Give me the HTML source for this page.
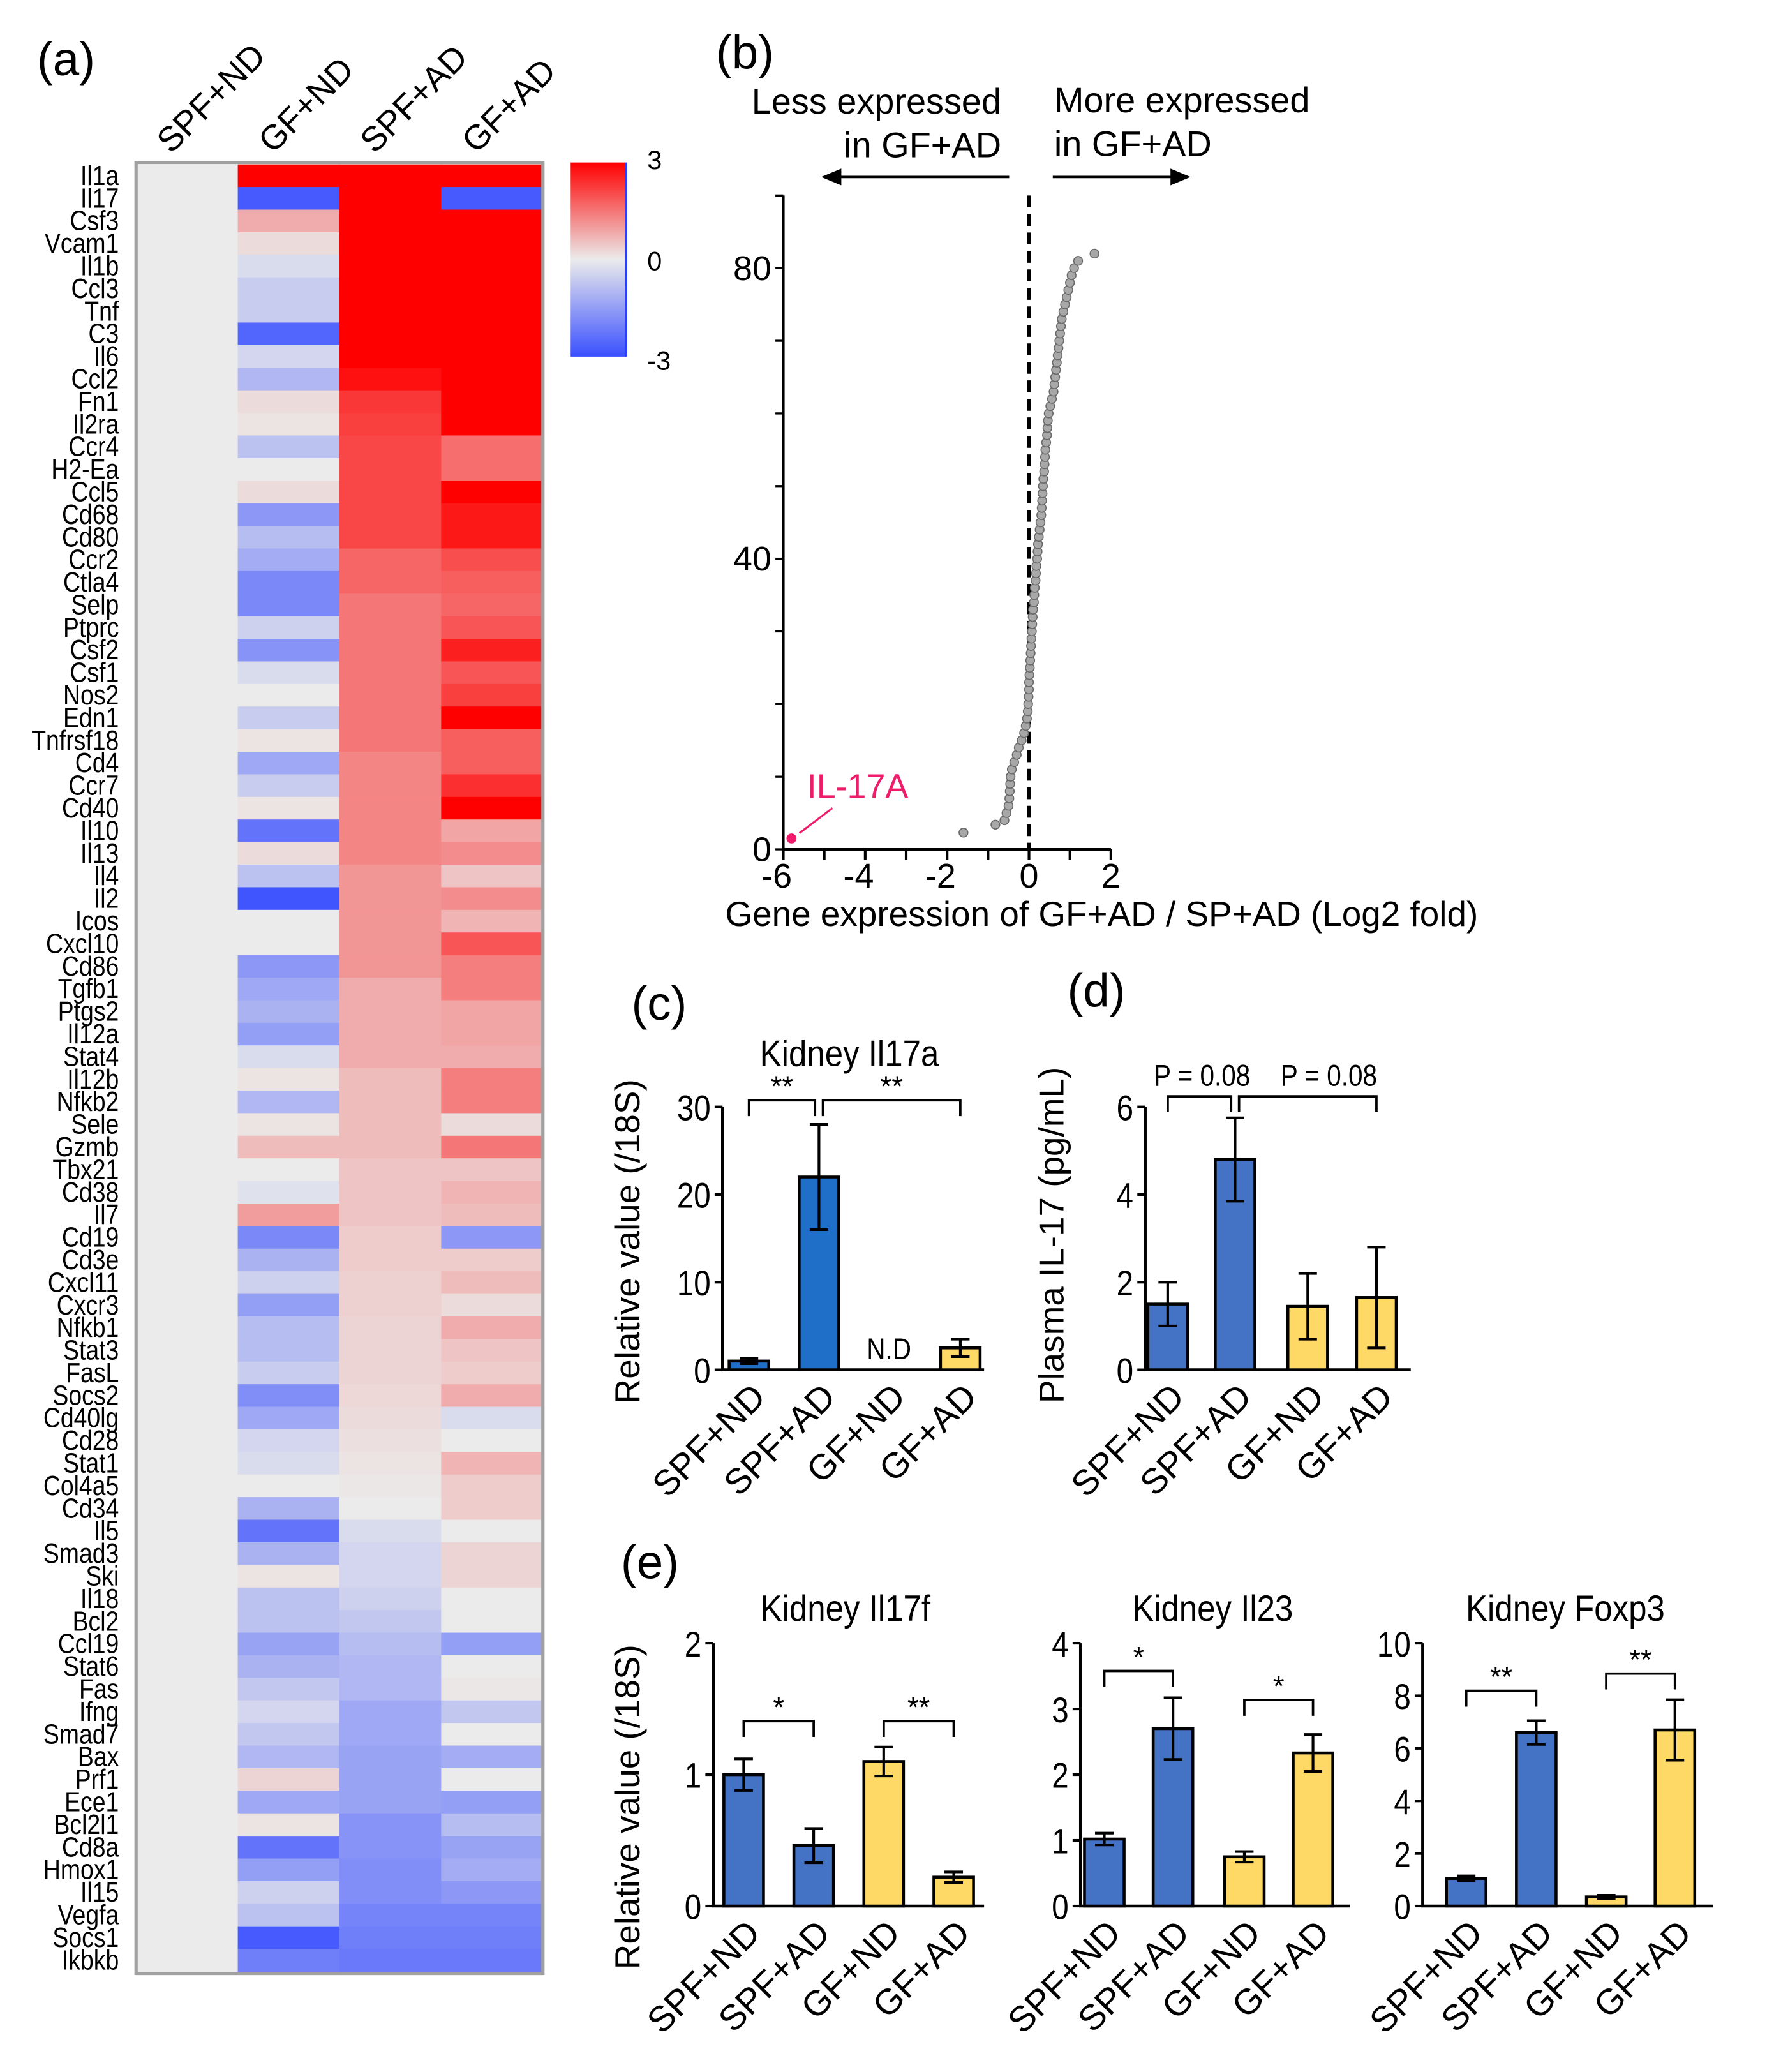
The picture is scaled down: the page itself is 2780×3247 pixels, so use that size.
<!DOCTYPE html>
<html><head><meta charset="utf-8">
<style>
html,body{margin:0;padding:0;background:#fff;}
svg{display:block;}
text{font-family:"Liberation Sans",Arial,sans-serif;}
</style></head>
<body>
<svg id="fig" xmlns="http://www.w3.org/2000/svg" width="2780" height="3247" viewBox="0 0 1343 1568.6" preserveAspectRatio="none">
<rect x="0" y="0" width="1343" height="1569" fill="#fff"/>
<text x="28" y="57" font-size="36">(a)</text>
<text x="542" y="52" font-size="36">(b)</text>
<text x="478" y="772" font-size="36">(c)</text>
<text x="808" y="762" font-size="36">(d)</text>
<text x="470" y="1195" font-size="36">(e)</text>
<g id="heat"></g>
<g id="scat"></g>
<g id="bars"></g>
</svg>
<script>
// ---------- Heatmap data ----------
const genes=["Il1a","Il17","Csf3","Vcam1","Il1b","Ccl3","Tnf","C3","Il6","Ccl2","Fn1","Il2ra","Ccr4","H2-Ea","Ccl5","Cd68","Cd80","Ccr2","Ctla4","Selp","Ptprc","Csf2","Csf1","Nos2","Edn1","Tnfrsf18","Cd4","Ccr7","Cd40","Il10","Il13","Il4","Il2","Icos","Cxcl10","Cd86","Tgfb1","Ptgs2","Il12a","Stat4","Il12b","Nfkb2","Sele","Gzmb","Tbx21","Cd38","Il7","Cd19","Cd3e","Cxcl11","Cxcr3","Nfkb1","Stat3","FasL","Socs2","Cd40lg","Cd28","Stat1","Col4a5","Cd34","Il5","Smad3","Ski","Il18","Bcl2","Ccl19","Stat6","Fas","Ifng","Smad7","Bax","Prf1","Ece1","Bcl2l1","Cd8a","Hmox1","Il15","Vegfa","Socs1","Ikbkb"];
const groups=["SPF+ND","GF+ND","SPF+AD","GF+AD"];
const valsGFND=[3,-2.8,0.8,0.2,-0.3,-0.6,-0.6,-2.6,-0.4,-1.0,0.2,0.1,-0.8,0,0.2,-1.6,-0.9,-1.2,-1.9,-1.9,-0.5,-1.7,-0.3,0,-0.6,0.1,-1.3,-0.6,0.1,-2.3,0.2,-0.8,-2.9,0,0,-1.6,-1.3,-1.1,-1.5,-0.3,0.1,-1.0,0.1,0.6,0,-0.2,1.0,-1.9,-1.1,-0.5,-1.5,-0.9,-0.9,-0.6,-1.8,-1.3,-0.4,-0.3,0,-1.1,-2.3,-1.1,0.1,-0.8,-0.8,-1.4,-1.1,-0.7,-0.4,-0.7,-1.0,0.3,-1.3,0.1,-2.3,-1.5,-0.5,-0.8,-2.8,-2.1];
const valsSPFAD=[3,3,3,3,3,3,3,3,3,2.8,2.3,2.2,2.1,2.1,2.1,2.1,2.1,1.7,1.7,1.5,1.5,1.5,1.5,1.5,1.5,1.5,1.3,1.3,1.3,1.3,1.3,1.1,1.1,1.1,1.1,1.1,0.8,0.8,0.8,0.8,0.6,0.6,0.6,0.6,0.5,0.5,0.5,0.4,0.4,0.35,0.35,0.3,0.3,0.3,0.25,0.2,0.15,0.1,0.05,0,-0.3,-0.4,-0.4,-0.5,-0.7,-0.9,-1.0,-1.0,-1.3,-1.3,-1.4,-1.4,-1.4,-1.7,-1.7,-1.8,-1.8,-2.0,-2.1,-2.2];
const valsGFAD=[3,-2.8,3,3,3,3,3,3,3,3,3,3,1.6,1.6,3,2.7,2.7,2.0,1.8,1.7,1.9,2.6,1.9,2.2,3,1.8,1.8,2.4,3,0.9,1.2,0.5,1.2,0.7,1.9,1.4,1.4,0.9,0.9,0.8,1.4,1.4,0.2,1.5,0.5,0.7,0.6,-1.6,0.4,0.6,0.2,0.8,0.5,0.4,0.8,-0.3,0,0.7,0.4,0.4,0,0.3,0.3,0,0,-1.5,0,0.05,-0.7,0,-1.2,0,-1.5,-0.9,-1.4,-1.2,-1.6,-2.0,-2.1,-2.2];
const valsSPFND=genes.map(()=>0);
const colorbarTicks=[3,0,-3];

// ---------- Fold-change plot data ----------
const il17X=-5.8, il17Y=1.5;
const grayX=[-1.6,-0.82,-0.6,-0.55,-0.5,-0.48,-0.47,-0.46,-0.45,-0.42,-0.36,-0.3,-0.25,-0.18,-0.12,-0.08,-0.05,-0.03,-0.02,-0.01,0,0,0.01,0.02,0.03,0.04,0.05,0.06,0.07,0.08,0.09,0.1,0.12,0.13,0.14,0.16,0.17,0.18,0.2,0.21,0.22,0.24,0.26,0.28,0.3,0.31,0.32,0.33,0.34,0.35,0.37,0.38,0.39,0.4,0.42,0.44,0.45,0.46,0.48,0.52,0.56,0.6,0.62,0.64,0.66,0.68,0.7,0.72,0.74,0.76,0.78,0.8,0.84,0.88,0.92,0.96,1.0,1.04,1.1,1.2,1.6];
const grayY=[2.3,3.4,4,5,6,7,8,9,10,11,12,13,14,15,16,17,18,19,20,21,22,23,24,25,26,27,28,29,30,31,32,33,34,35,36,37,38,39,40,41,42,43,44,45,46,47,48,49,50,51,52,53,54,55,56,57,58,59,60,61,62,63,64,65,66,67,68,69,70,71,72,73,74,75,76,77,78,79,80,81,82];
const scatXTicks=[-6,-4,-2,0,2];
const scatYTicks=[0,40,80];

// ---------- Bar chart data ----------
const barCats=["SPF+ND","SPF+AD","GF+ND","GF+AD"];
const il17aVals=[1.0,22,null,2.5];
const il17aErr=[0.3,6,0,1.0];
const il17aTicks=[0,10,20,30];
const plasmaVals=[1.5,4.8,1.45,1.65];
const plasmaErr=[0.5,0.95,0.75,1.15];
const plasmaTicks=[0,2,4,6];
const il17fVals=[1.0,0.46,1.1,0.22];
const il17fErr=[0.12,0.13,0.11,0.04];
const il17fTicks=[0,1,2];
const il23Vals=[1.02,2.7,0.75,2.33];
const il23Err=[0.09,0.47,0.08,0.28];
const il23Ticks=[0,1,2,3,4];
const foxp3Vals=[1.05,6.6,0.35,6.7];
const foxp3Err=[0.1,0.45,0.06,1.15];
const foxp3Ticks=[0,2,4,6,8,10];

const NS="http://www.w3.org/2000/svg";
function mk(tag,attrs,parent,txt){const e=document.createElementNS(NS,tag);for(const k in attrs)e.setAttribute(k,attrs[k]);if(txt!==undefined)e.textContent=txt;parent.appendChild(e);return e;}
function col(v){
  const g=[235,235,235],r=[255,0,0],b=[58,80,255];
  const t=Math.max(-1,Math.min(1,v/3));
  const c=t>=0?r:b,a=Math.abs(t);
  return "rgb("+g.map((x,i)=>Math.round(x+(c[i]-x)*a)).join(",")+")";
}

// ---------- Heatmap ----------
(function(){
  const G=document.getElementById('heat');
  const x0=103,top=124.5,bot=1492.5,cw=77,rh=(bot-top)/genes.length;
  const cols=[valsSPFND,valsGFND,valsSPFAD,valsGFAD];
  cols.forEach((arr,ci)=>{
    arr.forEach((v,ri)=>{
      const r=mk('rect',{x:x0+ci*cw,y:top+ri*rh,width:cw+0.5,height:rh+0.5,fill:col(v)},G);
      
      
    });
  });
  const box=mk('rect',{x:x0,y:top-1.5,width:cw*4,height:bot-top+3,fill:'none',stroke:'#a0a0a0','stroke-width':2.5},G);
  
  
  genes.forEach((g,ri)=>{
    const t=mk('text',{transform:'translate(90,'+(top+ri*rh+rh/2+7)+') scale(0.86,1)','text-anchor':'end','font-size':21},G,g);
    
    
  });
  groups.forEach((g,ci)=>{
    const cx=x0+ci*cw+cw/2-12;
    const t=mk('text',{transform:'translate('+cx+',117) rotate(-45)','font-size':26},G,g);
    
    
  });
  const defs=mk('defs',{},G);
  const lg=mk('linearGradient',{id:'cbg',x1:0,y1:0,x2:0,y2:1},defs);
  [[0,3],[0.5,0],[1,-3]].forEach(s=>mk('stop',{offset:s[0],'stop-color':col(s[1])},lg));
  const cb=mk('rect',{x:432,y:123,width:42,height:147,fill:'url(#cbg)'},G);
  
  
  const cbl=mk('line',{x1:474,y1:123,x2:474,y2:270,stroke:'#2a40ff','stroke-width':1.5},G);
  
  
  colorbarTicks.forEach(v=>{
    const y=123+(3-v)/6*147;
    const t=mk('text',{x:490,y:y+(v===3?5:v===0?8:10),'font-size':20},G,String(v));
    
    
  });
})();

// ---------- Fold-change scatter ----------
(function(){
  const G=document.getElementById('scat');
  const X=v=>593+(v+6)*31, Y=v=>643-v*5.5;
  const ax=mk('path',{d:'M593,148 L593,643 L841,643',fill:'none',stroke:'#000','stroke-width':2},G);
  
  
  for(let v=0;v<=90;v+=10){if(Y(v)<148)break;const l=mk('line',{x1:587,x2:593,y1:Y(v),y2:Y(v),stroke:'#000','stroke-width':1.6},G);}
  for(let v=-6;v<=2;v+=1){const l=mk('line',{x1:X(v),x2:X(v),y1:643,y2:651,stroke:'#000','stroke-width':2},G);}
  scatYTicks.forEach(v=>{const t=mk('text',{x:584,y:Y(v)+9,'text-anchor':'end','font-size':26},G,String(v));});
  scatXTicks.forEach(v=>{const t=mk('text',{x:X(v)-(v<0?5:0),y:672,'text-anchor':'middle','font-size':26},G,String(v));});
  const dl=mk('line',{x1:X(0),x2:X(0),y1:148,y2:643,stroke:'#000','stroke-width':3,'stroke-dasharray':'9,5'},G);
  
  
  grayX.forEach((v,i)=>{const c=mk('circle',{cx:X(v),cy:Y(grayY[i]),r:3.3,fill:'#a8a8a8',stroke:'#6a6a6a','stroke-width':0.8},G);});
  const p=mk('circle',{cx:X(il17X),cy:Y(il17Y),r:3.8,fill:'#ee1c6a'},G);
  
  
  const pl=mk('line',{x1:X(il17X)+6,y1:Y(il17Y)-4,x2:X(il17X)+31,y2:Y(il17Y)-23,stroke:'#ee1c6a','stroke-width':1.5},G);
  
  
  const pt=mk('text',{x:611,y:604,'font-size':26,fill:'#ee1c6a'},G,'IL-17A');
  
  
  const xl=mk('text',{x:834,y:701,'text-anchor':'middle','font-size':26.5},G,'Gene expression of GF+AD / SP+AD (Log2 fold)');
  
  
  [['Less expressed',758,86,'end'],['in GF+AD',758,119,'end'],['More expressed',798,85,'start'],['in GF+AD',798,118,'start']].forEach((a,i)=>{
    const t=mk('text',{x:a[1],y:a[2],'text-anchor':a[3],'font-size':27},G,a[0]);
    
    
  });
  const arL=mk('path',{d:'M764,134 L624,134 M624,134 l12,-5 l0,10 z',stroke:'#000','stroke-width':1.8,fill:'#000'},G);
  
  
  const arR=mk('path',{d:'M797,134 L897,134 M899,134 l-12,-5 l0,10 z',stroke:'#000','stroke-width':1.8,fill:'#000'},G);
  
  
})();

// ---------- Bar charts ----------
const BLUE='#4472c4', BLUE2='#1f6ec8', YEL='#ffd966';
function barChart(o){
  const G=mk('g',{},document.getElementById('bars'));
  
  
  const Y=v=>o.y0-(v/o.max)*(o.y0-o.yTop);
  const ax=mk('path',{d:'M'+o.ax+','+o.yTop+' L'+o.ax+','+o.y0+' L'+o.axEnd+','+o.y0,fill:'none',stroke:'#000','stroke-width':2.2},G);
  
  
  o.ticks.forEach(v=>{
    const l=mk('line',{x1:o.ax-6,x2:o.ax,y1:Y(v),y2:Y(v),stroke:'#000','stroke-width':2},G);
    
    
    const t=mk('text',{transform:'translate('+(o.ax-9)+','+(Y(v)+10)+') scale(0.85,1)','text-anchor':'end','font-size':27},G,String(v));
    
    
  });
  o.vals.forEach((v,i)=>{
    const cx=o.xs[i];
    if(v===null){
      const t=mk('text',{transform:'translate('+cx+','+(o.y0-8)+') scale(0.85,1)','text-anchor':'middle','font-size':23},G,'N.D');
      
      
    } else {
      const r=mk('rect',{x:cx-15,y:Y(v),width:30,height:o.y0-Y(v),fill:o.colors[i],stroke:'#000','stroke-width':2.2},G);
      
      
      const e=o.err[i],yt=Y(v+e),yb=Y(Math.max(0,v-e));
      const eb=mk('path',{d:'M'+cx+','+yt+' L'+cx+','+yb+' M'+(cx-7)+','+yt+' L'+(cx+7)+','+yt+' M'+(cx-7)+','+yb+' L'+(cx+7)+','+yb,stroke:'#000','stroke-width':2,fill:'none'},G);
      
      
    }
    const lt=mk('text',{transform:'translate('+(cx+14)+','+(o.y0+22)+') rotate(-45)','text-anchor':'end','font-size':27},G,barCats[i]);
    
    
  });
  const tt=mk('text',{transform:'translate('+o.titleX+','+o.titleY+') scale(0.88,1)','text-anchor':'middle','font-size':28},G,o.title);
  
  
  (o.brackets||[]).forEach((b,bi)=>{
    const a=o.xs[b[0]]+(bi===1&&b[0]===1?3:0),c=o.xs[b[1]]-(bi===0&&b[1]===1&&o.brackets.length>1&&o.brackets[1][0]===1?3:0);
    const br=mk('path',{d:'M'+a+','+(b[2]+12)+' L'+a+','+b[2]+' L'+c+','+b[2]+' L'+c+','+(b[2]+12),fill:'none',stroke:'#000','stroke-width':1.8},G);
    
    
    const isP=b[3].startsWith('P');
    const lx=b[4]!==undefined?b[4]:(a+c)/2;
    const st=mk('text',{transform:'translate('+lx+','+(b[2]-(isP?8:3))+') scale('+(isP?0.85:1)+',1)','text-anchor':'middle','font-size':isP?23:22},G,b[3]);
    
    
  });
  if(o.ylabel){
    const yl=mk('text',{transform:'translate('+o.ylabelX+','+o.ylabelY+') rotate(-90)','text-anchor':'middle','font-size':26.5},G,o.ylabel);
    
    
  }
}
barChart({name:'kidney-il17a-chart',ax:547,axEnd:745,y0:1037,yTop:838,max:30,ticks:il17aTicks,vals:il17aVals,err:il17aErr,xs:[567,620,673,727],colors:[BLUE2,BLUE2,YEL,YEL],title:'Kidney Il17a',titleX:643,titleY:807,brackets:[[0,1,833,'**'],[1,3,833,'**']],ylabel:'Relative value (/18S)',ylabelX:484,ylabelY:940});
barChart({name:'plasma-il17-chart',ax:867,axEnd:1068,y0:1037,yTop:838,max:6,ticks:plasmaTicks,vals:plasmaVals,err:plasmaErr,xs:[884,935,990,1042],colors:[BLUE,BLUE,YEL,YEL],title:'',titleX:0,titleY:0,brackets:[[0,1,830,'P = 0.08',910],[1,3,830,'P = 0.08',1006]],ylabel:'Plasma IL-17 (pg/mL)',ylabelX:805,ylabelY:935});
barChart({name:'kidney-il17f-chart',ax:540,axEnd:745,y0:1443,yTop:1244,max:2,ticks:il17fTicks,vals:il17fVals,err:il17fErr,xs:[563,616,669,722],colors:[BLUE,BLUE,YEL,YEL],title:'Kidney Il17f',titleX:640,titleY:1227,brackets:[[0,1,1303,'*'],[2,3,1303,'**']],ylabel:'Relative value (/18S)',ylabelX:484,ylabelY:1368});
barChart({name:'kidney-il23-chart',ax:818,axEnd:1022,y0:1443,yTop:1244,max:4,ticks:il23Ticks,vals:il23Vals,err:il23Err,xs:[836,888,942,994],colors:[BLUE,BLUE,YEL,YEL],title:'Kidney Il23',titleX:918,titleY:1227,brackets:[[0,1,1265,'*'],[2,3,1287,'*']]});
barChart({name:'kidney-foxp3-chart',ax:1077,axEnd:1297,y0:1443,yTop:1244,max:10,ticks:foxp3Ticks,vals:foxp3Vals,err:foxp3Err,xs:[1110,1163,1216,1268],colors:[BLUE,BLUE,YEL,YEL],title:'Kidney Foxp3',titleX:1185,titleY:1227,brackets:[[0,1,1280,'**'],[2,3,1267,'**']]});
</script>
</body></html>
